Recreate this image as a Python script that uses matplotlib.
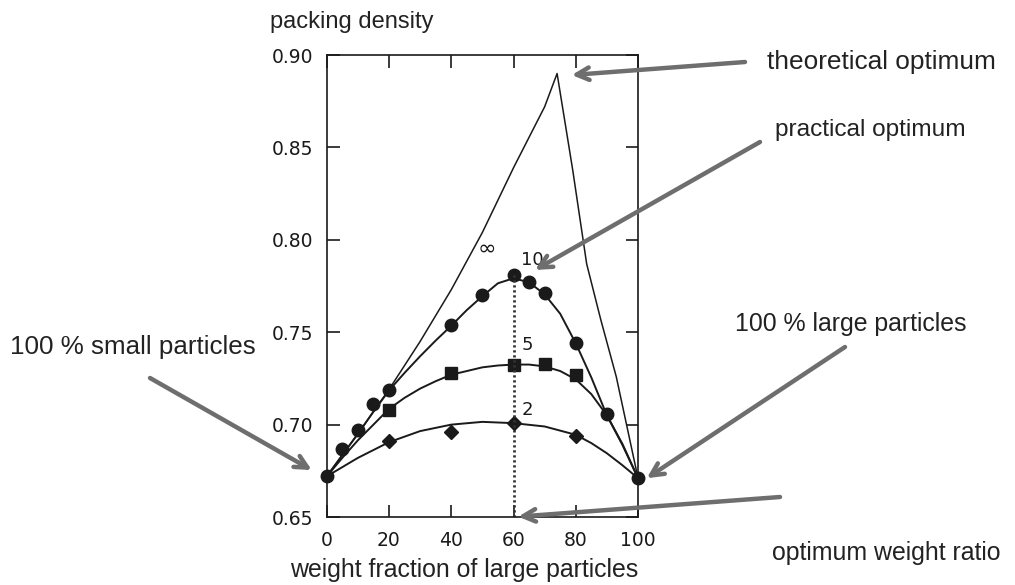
import numpy as np
import matplotlib.pyplot as plt

plt.rcParams['font.family'] = ['DejaVu Sans']

# theoretical curve for infinite size ratio
inf_x = [0, 10, 20, 30, 40, 50, 60, 70, 74, 79, 83.5, 88, 93, 100]
inf_y = [0.672, 0.695, 0.719, 0.745, 0.773, 0.804, 0.839, 0.872, 0.890,
         0.838, 0.787, 0.757, 0.726, 0.671]

# fitted curves for size ratios 10, 5 and 2
c10_x = [0, 5, 10, 15, 20, 25, 30, 35, 40, 45, 50, 55, 60, 65, 70, 75, 80,
         85, 90, 95, 100]
c10_y = [0.672, 0.6835, 0.695, 0.707, 0.7185, 0.728, 0.737, 0.7455, 0.7535,
         0.762, 0.7695, 0.7765, 0.7792, 0.777, 0.7705, 0.760, 0.744, 0.7255,
         0.705, 0.689, 0.671]
c5_x = [0, 5, 10, 15, 20, 25, 30, 35, 40, 45, 50, 55, 60, 65, 70, 75, 80, 85,
        90, 95, 100]
c5_y = [0.672, 0.682, 0.6915, 0.700, 0.7085, 0.7145, 0.7195, 0.7235, 0.727,
        0.729, 0.731, 0.732, 0.7325, 0.7325, 0.7315, 0.729, 0.7245, 0.7165,
        0.705, 0.6895, 0.671]
c2_x = [0, 10, 20, 30, 40, 50, 60, 70, 80, 85, 90, 95, 100]
c2_y = [0.672, 0.682, 0.6905, 0.6965, 0.700, 0.7015, 0.7008, 0.699, 0.6945,
        0.690, 0.6845, 0.678, 0.671]

# measured points
circ_x = [0, 5, 10, 15, 20, 40, 50, 60, 65, 70, 80, 90, 100]
circ_y = [0.672, 0.687, 0.697, 0.711, 0.719, 0.754, 0.770, 0.781, 0.777,
          0.771, 0.744, 0.706, 0.671]
sq_x = [20, 40, 60, 70, 80]
sq_y = [0.708, 0.728, 0.732, 0.733, 0.727]
dia_x = [20, 40, 60, 80]
dia_y = [0.691, 0.696, 0.701, 0.694]

opt_x = 60
opt_y = 0.781

xticks = [0, 20, 40, 60, 80, 100]
yticks = [0.65, 0.70, 0.75, 0.80, 0.85, 0.90]

ink = '#1a1a1a'
arrow_col = '#6e6e6e'
txt_col = '#222222'

fig = plt.figure(figsize=(10.15, 5.85), dpi=100)
ax = fig.add_axes([0.3219, 0.1162, 0.3067, 0.7897])

ax.plot(inf_x, inf_y, color=ink, lw=1.1)
ax.plot(c10_x, c10_y, color=ink, lw=1.4)
ax.plot(c5_x, c5_y, color=ink, lw=1.4)
ax.plot(c2_x, c2_y, color=ink, lw=1.4)
ax.plot(circ_x, circ_y, 'o', color=ink, ms=9, clip_on=False)
ax.plot(sq_x, sq_y, 's', color=ink, ms=8)
ax.plot(dia_x, dia_y, 'D', color=ink, ms=7.5)
ax.plot([opt_x, opt_x], [0.65, opt_y], color='#333333', lw=2,
        linestyle=(0, (0.8, 1.0)))

# curve labels
ax.text(51.5, 0.7955, '∞', fontsize=16, color=ink, ha='center', va='center')
ax.text(62.5, 0.789, '10', fontsize=13, color=ink, ha='left', va='center')
ax.text(62.5, 0.743, '5', fontsize=13, color=ink, ha='left', va='center')
ax.text(62.5, 0.708, '2', fontsize=13, color=ink, ha='left', va='center')

ax.set_xlim(0, 100)
ax.set_ylim(0.65, 0.90)
ax.set_xticks(xticks)
ax.set_yticks(yticks)
ax.set_xticklabels([str(t) for t in xticks])
ax.set_yticklabels(['%.2f' % t for t in yticks])
ax.tick_params(direction='in', length=9, width=1.2, color=ink, labelsize=13.5,
               labelcolor=ink, top=True, right=True)
ax.tick_params(axis='x', pad=10)
ax.tick_params(axis='y', pad=10)
for s in ax.spines.values():
    s.set_color(ink)
    s.set_linewidth(1.2)

# annotation texts
fam = ['Liberation Sans', 'DejaVu Sans']
fig.text(270 / 1015, 1 - 22 / 585, 'packing density', va='center', ha='left',
         fontsize=17, color=txt_col, family=fam)
fig.text(290 / 1015, 1 - 570 / 585, 'weight fraction of large particles',
         va='center', ha='left', fontsize=17.9, color=txt_col, family=fam)

arr = dict(arrowstyle='->,head_length=0.9,head_width=0.45', color=arrow_col,
           lw=3.2, shrinkA=0, shrinkB=0)
notes = [
    ('theoretical optimum', (78.7, 0.8892), (745, 62), (767, 62), 18.9),
    ('practical optimum', (66.9, 0.7837), (760, 142), (775, 130), 17.6),
    ('100 % small particles', (-4.8, 0.6754), (150, 378), (10, 347), 18.7),
    ('100 % large particles', (102.8, 0.671), (845, 347), (735, 324), 17.9),
    ('optimum weight ratio', (61.5, 0.6502), (780, 497), (772, 553), 17.9),
]
for label, tip, tail, pos, size in notes:
    ax.annotate('', xy=tip, xycoords='data', xytext=(tail[0], 585 - tail[1]),
                textcoords='figure pixels', arrowprops=arr, annotation_clip=False)
    fig.text(pos[0] / 1015, 1 - pos[1] / 585, label, va='center', ha='left',
             fontsize=size, color=txt_col, family=fam)

fig.savefig('out.png', dpi=100)
